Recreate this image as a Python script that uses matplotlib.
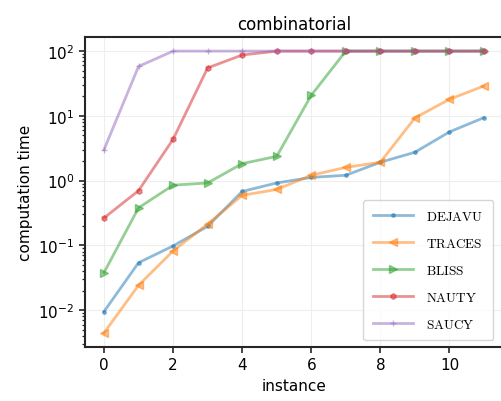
import matplotlib
matplotlib.use("Agg")
import matplotlib.pyplot as plt
import numpy as np

plt.rcParams["mathtext.fontset"] = "cm"
plt.rcParams["font.family"] = ["DejaVu Sans"]

instances = list(range(12))

dejavu = [0.0095, 0.054, 0.098, 0.197, 0.68, 0.92, 1.12, 1.21, 1.92, 2.74, 5.65, 9.4]
traces = [0.00445, 0.0242, 0.082, 0.214, 0.593, 0.73, 1.21, 1.6, 1.92, 9.3, 18.0, 29.0]
bliss = [0.038, 0.38, 0.85, 0.92, 1.83, 2.37, 20.8, 100, 100, 100, 100, 100]
nauty = [0.265, 0.70, 4.35, 55.0, 87.0, 100, 100, 100, 100, 100, 100, 100]
saucy = [3.0, 58.0, 100, 100, 100, 100, 100, 100, 100, 100, 100, 100]

labels = [r"$\mathrm{DEJAVU}$", r"$\mathrm{TRACES}$", r"$\mathrm{BLISS}$",
          r"$\mathrm{NAUTY}$", r"$\mathrm{SAUCY}$"]
series = [dejavu, traces, bliss, nauty, saucy]
markers = [".", "<", ">", "h", "+"]
msizes = [5, 6, 6, 4, 5]

fig = plt.figure(figsize=(5.02, 4.02), dpi=100)
ax = fig.add_axes([85 / 502, 54 / 402, 418 / 502, 310 / 402])

for ys, lab, mk, ms in zip(series, labels, markers, msizes):
    ax.plot(instances, ys, marker=mk, markersize=ms, linewidth=2, alpha=0.5, label=lab)

ax.set_yscale("log")
ax.grid(True, color="#eeeeee", linewidth=0.8)
ax.set_axisbelow(True)
ax.set_title("combinatorial", fontsize=12)
ax.set_xlabel("instance", fontsize=11)
ax.set_ylabel("computation time", fontsize=11)
ax.set_xticks([0, 2, 4, 6, 8, 10])
ax.tick_params(axis="both", which="major", labelsize=11, length=4, width=1.2, color="#262626")
ax.tick_params(axis="y", which="minor", length=2.5, width=0.9, color="#262626")
for s in ax.spines.values():
    s.set_linewidth(1.5)
    s.set_color("#262626")

leg = ax.legend(loc="lower right", fontsize=9.5, labelspacing=1.05, handlelength=3.0,
                handletextpad=1.05, borderpad=0.75, framealpha=0.8,
                bbox_to_anchor=(0.993, 0.0))
leg.get_frame().set_edgecolor("#cccccc")

fig.savefig("out.png", dpi=100)
